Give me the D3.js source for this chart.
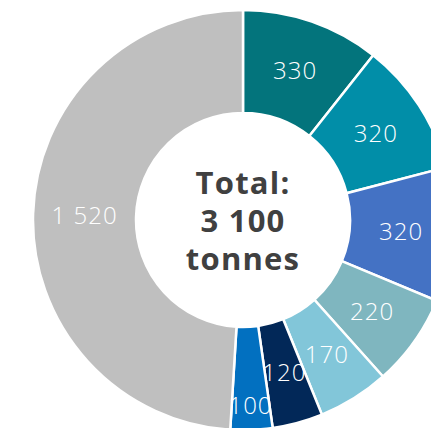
<!DOCTYPE html>
<html><head><meta charset="utf-8">
<script src="https://cdn.jsdelivr.net/npm/d3@7"></script>
<style>html,body{margin:0;padding:0;background:#fff;overflow:hidden}</style>
</head><body>
<svg id="c" width="431" height="428"></svg>
<script>
const labels = ["330","320","320","220","170","120","100","1 520"];
const values = [330,320,320,220,170,120,100,1520];
const colors = ["#03747c","#018ea8","#4472c4","#7fb6bf","#82c6d9","#022858","#0270c0","#bfbfbf"];
const labelShift = [0,0,0,0,0,0,27,0];
const centerLines = ["Total:","3 100","tonnes"];

const svg = d3.select("#c");
const cx = 243, cy = 220, R = 210, r = 107;
const g = svg.append("g").attr("transform",`translate(${cx},${cy})`);
const pie = d3.pie().sort(null).value(d=>d)(values);
const arc = d3.arc().innerRadius(r).outerRadius(R);
g.selectAll("path").data(pie).join("path")
  .attr("d",arc).attr("fill",(d,i)=>colors[i])
  .attr("stroke","#fff").attr("stroke-width",2.5);
g.selectAll("text.l").data(pie).join("text").attr("class","l")
  .attr("transform",(d,i)=>{
    const a=(d.startAngle+d.endAngle)/2, rr=(r+R)/2+labelShift[i];
    return `translate(${rr*Math.sin(a)},${-rr*Math.cos(a)})`;})
  .attr("text-anchor","middle").attr("dy","0.35em")
  .attr("fill","#fff").attr("font-family","'Open Sans',sans-serif")
  .attr("font-weight",300).attr("font-size",24).attr("letter-spacing",1)
  .text((d,i)=>labels[i]);
g.selectAll("text.c").data(centerLines).join("text").attr("class","c")
  .attr("x",0).attr("y",(d,i)=>-26+i*38)
  .attr("text-anchor","middle")
  .attr("fill","#404040").attr("font-family","'Open Sans',sans-serif")
  .attr("font-weight",700).attr("font-size",31).attr("letter-spacing",1.2)
  .text(d=>d);
</script>
</body></html>
